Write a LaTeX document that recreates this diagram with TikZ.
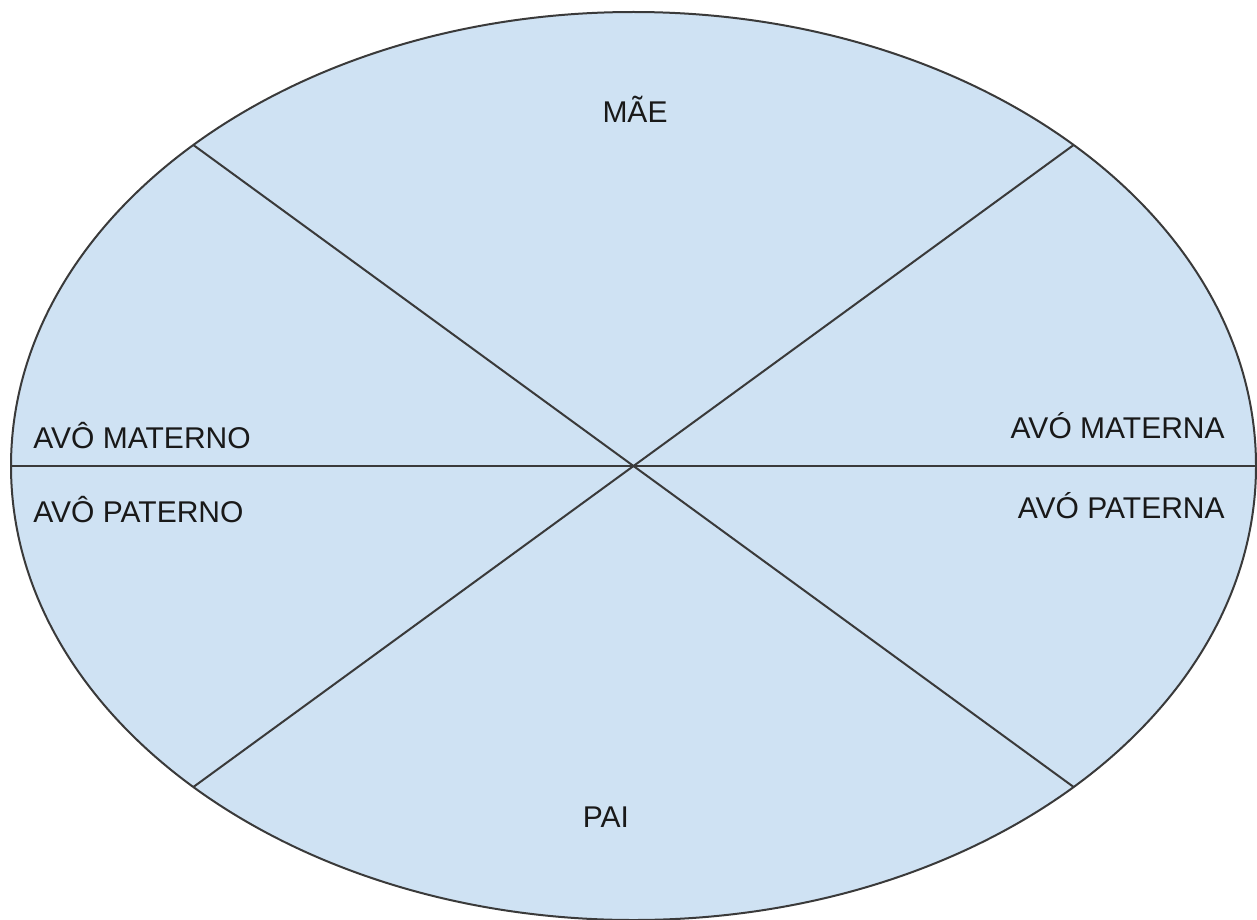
\documentclass[tikz,border=0pt]{standalone}
\usepackage{fontspec}
\setmainfont{Liberation Sans}
\usepackage{xcolor}
\usepackage{tikz}
\usetikzlibrary{calc}
\definecolor{sliceblue}{HTML}{CFE2F3}
\definecolor{edgegray}{HTML}{3A3A3A}

\begin{document}
\begin{tikzpicture}[
  x=0.5pt,y=-0.5pt,
  plate/.style={draw=edgegray,fill=sliceblue,line width=1pt},
  cut/.style  ={draw=edgegray,line width=1pt},
  lab/.style  ={inner sep=0pt,font=\fontsize{15}{18}\selectfont,text=black!90},
]
\useasboundingbox (0,0) rectangle (1257,920);

%% ─── Plate and cuts ──────────────────────────────────────────────────────────
\coordinate (c) at (633.5,466);
\draw[plate] (c) ellipse [x radius=622.5, y radius=454];
\coordinate (w)  at ($(c)+(180:622.5 and 454)$);
\coordinate (e)  at ($(c)+(0:622.5 and 454)$);
\coordinate (nw) at ($(c)+(135:622.5 and 454)$);
\coordinate (ne) at ($(c)+(45:622.5 and 454)$);
\coordinate (sw) at ($(c)+(225:622.5 and 454)$);
\coordinate (se) at ($(c)+(315:622.5 and 454)$);

\draw[cut] (w)--(e);
\draw[cut] (nw)--(se);
\draw[cut] (ne)--(sw);

%% ─── Labels ──────────────────────────────────────────────────────────────────
\node[lab,anchor=base]       (mae)  at (635,122)  {MÃE};
\node[lab,anchor=base]       (pai)  at (606,827)  {PAI};
\node[lab,anchor=base west]  (avoM) at (33,448)   {AVÔ MATERNO};
\node[lab,anchor=base west]  (avoP) at (33,522)   {AVÔ PATERNO};
\node[lab,anchor=base east]  (avaM) at (1225,438) {AVÓ MATERNA};
\node[lab,anchor=base east]  (avaP) at (1225,518) {AVÓ PATERNA};

\end{tikzpicture}
\end{document}
